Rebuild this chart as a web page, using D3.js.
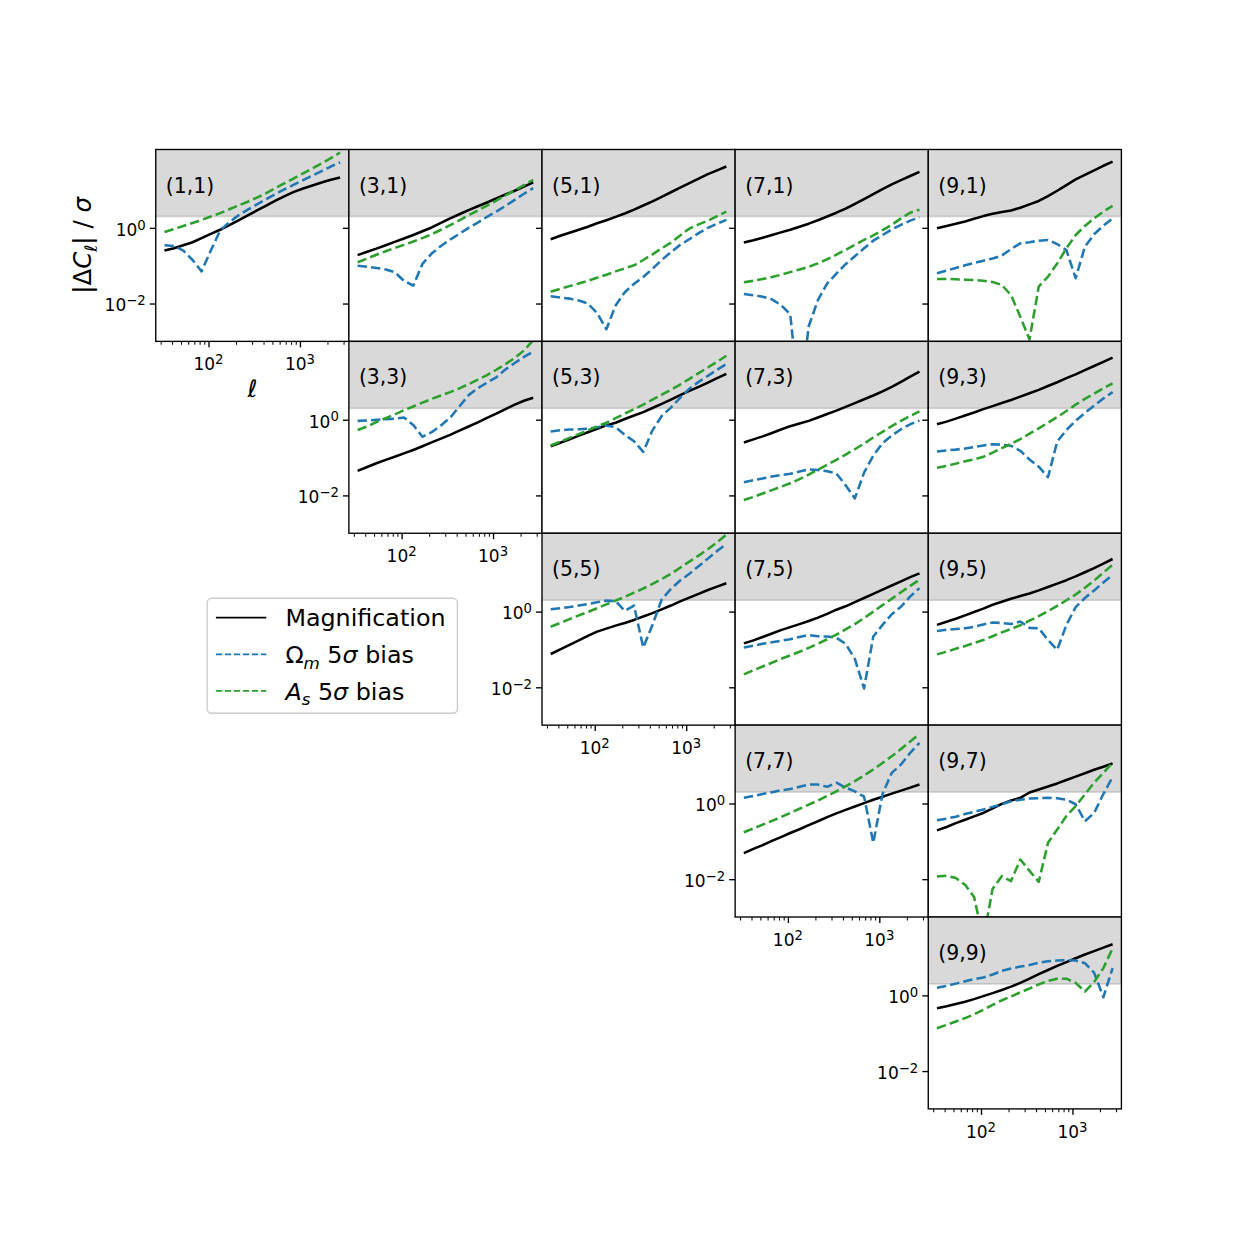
<!DOCTYPE html>
<html>
<head>
<meta charset="utf-8">
<script src="https://cdn.jsdelivr.net/npm/d3@7"></script>
<style>
  body { margin: 0; background: #fff; }
  svg { font-family: "DejaVu Sans", sans-serif; }
</style>
</head>
<body>
<div id="chart"></div>
<script>
// multipole bin centres, shared by every panel
const ells = [33, 42, 53, 67, 84, 106, 134, 169, 213, 269, 339, 428, 540, 681, 859, 1084, 1368, 1726, 2178, 2748];

// log10(|dC_l| / sigma) for each bin pair
// mag = magnification, om = Omega_m 5 sigma bias, as = A_s 5 sigma bias
const mag_1_1 = [-0.60, -0.54, -0.46, -0.38, -0.27, -0.16, -0.05, 0.07, 0.20, 0.33, 0.46, 0.59, 0.72, 0.84, 0.95, 1.04, 1.12, 1.20, 1.27, 1.33];
const om_1_1 = [-0.46, -0.48, -0.60, -0.85, -1.15, -0.60, -0.07, 0.15, 0.33, 0.48, 0.62, 0.76, 0.89, 1.02, 1.14, 1.26, 1.38, 1.50, 1.62, 1.73];
const as_1_1 = [-0.11, -0.03, 0.05, 0.13, 0.21, 0.30, 0.39, 0.49, 0.59, 0.69, 0.80, 0.92, 1.05, 1.18, 1.31, 1.44, 1.57, 1.70, 1.84, 1.99];

const mag_3_1 = [-0.72, -0.63, -0.55, -0.46, -0.37, -0.28, -0.19, -0.09, 0.01, 0.13, 0.25, 0.36, 0.47, 0.57, 0.67, 0.78, 0.88, 0.98, 1.09, 1.20];
const om_3_1 = [-1.00, -1.03, -1.06, -1.10, -1.17, -1.40, -1.53, -0.95, -0.68, -0.48, -0.31, -0.16, 0.00, 0.14, 0.29, 0.43, 0.58, 0.74, 0.90, 1.05];
const as_3_1 = [-0.91, -0.81, -0.71, -0.62, -0.53, -0.45, -0.36, -0.27, -0.17, -0.05, 0.07, 0.20, 0.33, 0.46, 0.59, 0.72, 0.86, 0.99, 1.13, 1.27];

const mag_5_1 = [-0.30, -0.21, -0.13, -0.05, 0.03, 0.12, 0.20, 0.29, 0.38, 0.48, 0.59, 0.70, 0.82, 0.94, 1.06, 1.18, 1.30, 1.42, 1.52, 1.62];
const om_5_1 = [-1.81, -1.84, -1.87, -1.92, -2.00, -2.25, -2.68, -2.05, -1.70, -1.48, -1.30, -1.08, -0.85, -0.64, -0.45, -0.30, -0.14, 0.00, 0.11, 0.21];
const as_5_1 = [-1.69, -1.61, -1.54, -1.47, -1.40, -1.32, -1.24, -1.15, -1.07, -0.99, -0.85, -0.70, -0.54, -0.39, -0.20, -0.02, 0.09, 0.19, 0.31, 0.43];

const mag_7_1 = [-0.39, -0.33, -0.26, -0.19, -0.12, -0.05, 0.03, 0.11, 0.20, 0.30, 0.40, 0.51, 0.63, 0.76, 0.89, 1.02, 1.15, 1.26, 1.37, 1.48];
const om_7_1 = [-1.75, -1.78, -1.82, -1.89, -2.04, -2.28, -4.60, -2.60, -1.91, -1.47, -1.21, -0.96, -0.75, -0.54, -0.34, -0.19, -0.04, 0.08, 0.19, 0.28];
const as_7_1 = [-1.44, -1.40, -1.35, -1.30, -1.24, -1.17, -1.10, -1.03, -0.94, -0.83, -0.71, -0.58, -0.45, -0.32, -0.20, -0.06, 0.08, 0.25, 0.40, 0.48];

const mag_9_1 = [-0.01, 0.05, 0.11, 0.17, 0.24, 0.31, 0.37, 0.42, 0.46, 0.53, 0.62, 0.71, 0.84, 0.98, 1.13, 1.28, 1.40, 1.52, 1.64, 1.75];
const om_9_1 = [-1.20, -1.13, -1.06, -0.99, -0.93, -0.87, -0.81, -0.73, -0.56, -0.41, -0.38, -0.34, -0.32, -0.43, -0.59, -1.33, -0.50, -0.17, 0.06, 0.25];
const as_9_1 = [-1.35, -1.35, -1.36, -1.37, -1.38, -1.40, -1.43, -1.51, -1.78, -2.35, -2.95, -1.55, -1.29, -0.94, -0.54, -0.19, 0.05, 0.25, 0.43, 0.58];

const mag_3_3 = [-1.35, -1.25, -1.15, -1.06, -0.98, -0.89, -0.80, -0.70, -0.60, -0.50, -0.40, -0.29, -0.18, -0.07, 0.05, 0.16, 0.28, 0.40, 0.50, 0.58];
const om_3_3 = [-0.03, -0.02, 0.00, 0.01, 0.03, 0.06, -0.14, -0.45, -0.33, -0.15, 0.05, 0.35, 0.65, 0.83, 0.98, 1.12, 1.33, 1.50, 1.66, 1.80];
const as_3_3 = [-0.27, -0.18, -0.06, 0.04, 0.14, 0.25, 0.35, 0.45, 0.55, 0.64, 0.73, 0.83, 0.94, 1.06, 1.18, 1.32, 1.47, 1.63, 1.83, 2.10];

const mag_5_3 = [-0.70, -0.61, -0.52, -0.42, -0.33, -0.24, -0.15, -0.08, 0.02, 0.11, 0.20, 0.31, 0.42, 0.53, 0.65, 0.76, 0.87, 0.98, 1.10, 1.21];
const om_5_3 = [-0.31, -0.28, -0.26, -0.25, -0.24, -0.20, -0.15, -0.20, -0.40, -0.57, -0.85, -0.28, 0.10, 0.32, 0.58, 0.82, 1.00, 1.16, 1.32, 1.47];
const as_5_3 = [-0.68, -0.58, -0.48, -0.38, -0.28, -0.18, -0.08, 0.04, 0.16, 0.28, 0.40, 0.53, 0.66, 0.79, 0.93, 1.08, 1.23, 1.38, 1.53, 1.69];

const mag_7_3 = [-0.60, -0.52, -0.44, -0.35, -0.26, -0.17, -0.10, -0.03, 0.06, 0.15, 0.24, 0.34, 0.44, 0.54, 0.64, 0.75, 0.87, 1.00, 1.14, 1.27];
const om_7_3 = [-1.65, -1.60, -1.55, -1.50, -1.46, -1.43, -1.37, -1.31, -1.33, -1.36, -1.42, -1.73, -2.08, -1.40, -0.95, -0.62, -0.42, -0.25, -0.12, -0.02];
const as_7_3 = [-2.12, -2.04, -1.95, -1.86, -1.77, -1.68, -1.57, -1.45, -1.32, -1.19, -1.06, -0.92, -0.78, -0.63, -0.47, -0.32, -0.17, -0.03, 0.10, 0.22];

const mag_9_3 = [-0.12, -0.05, 0.03, 0.11, 0.19, 0.28, 0.36, 0.44, 0.52, 0.61, 0.70, 0.79, 0.89, 0.99, 1.10, 1.20, 1.31, 1.42, 1.53, 1.64];
const om_9_3 = [-0.84, -0.81, -0.79, -0.76, -0.72, -0.68, -0.65, -0.66, -0.69, -0.82, -1.05, -1.24, -1.52, -0.58, -0.27, -0.03, 0.18, 0.37, 0.56, 0.73];
const as_9_3 = [-1.27, -1.22, -1.16, -1.10, -1.05, -0.98, -0.87, -0.75, -0.64, -0.51, -0.37, -0.23, -0.08, 0.07, 0.23, 0.40, 0.55, 0.69, 0.83, 0.96];

const mag_5_5 = [-1.12, -1.00, -0.88, -0.76, -0.64, -0.53, -0.45, -0.37, -0.30, -0.22, -0.13, -0.04, 0.06, 0.16, 0.27, 0.37, 0.47, 0.57, 0.66, 0.75];
const om_5_5 = [0.06, 0.09, 0.12, 0.16, 0.20, 0.25, 0.29, 0.28, 0.02, 0.16, -0.95, -0.35, 0.32, 0.60, 0.82, 1.00, 1.20, 1.40, 1.60, 1.79];
const as_5_5 = [-0.40, -0.30, -0.20, -0.10, -0.01, 0.09, 0.19, 0.29, 0.39, 0.50, 0.61, 0.73, 0.86, 1.00, 1.16, 1.32, 1.48, 1.65, 1.83, 2.03];

const mag_7_5 = [-0.84, -0.76, -0.67, -0.58, -0.49, -0.41, -0.33, -0.25, -0.16, -0.06, 0.05, 0.14, 0.25, 0.36, 0.47, 0.58, 0.69, 0.80, 0.91, 1.01];
const om_7_5 = [-0.95, -0.90, -0.85, -0.81, -0.77, -0.73, -0.67, -0.62, -0.65, -0.66, -0.69, -0.85, -1.25, -2.03, -0.66, -0.35, -0.07, 0.13, 0.40, 0.62];
const as_7_5 = [-1.66, -1.55, -1.45, -1.35, -1.25, -1.16, -1.06, -0.96, -0.85, -0.73, -0.61, -0.47, -0.33, -0.17, 0.00, 0.17, 0.34, 0.51, 0.68, 0.84];

const mag_9_5 = [-0.35, -0.27, -0.19, -0.10, -0.01, 0.08, 0.18, 0.26, 0.34, 0.41, 0.48, 0.56, 0.65, 0.74, 0.83, 0.93, 1.04, 1.15, 1.27, 1.39];
const om_9_5 = [-0.51, -0.48, -0.46, -0.44, -0.40, -0.34, -0.29, -0.30, -0.33, -0.26, -0.43, -0.44, -0.75, -1.01, -0.35, 0.12, 0.36, 0.56, 0.77, 0.97];
const as_9_5 = [-1.13, -1.06, -0.98, -0.91, -0.83, -0.75, -0.65, -0.55, -0.46, -0.36, -0.24, -0.12, 0.01, 0.15, 0.30, 0.45, 0.63, 0.82, 1.03, 1.24];

const mag_7_7 = [-1.31, -1.20, -1.10, -0.99, -0.89, -0.78, -0.68, -0.57, -0.47, -0.36, -0.26, -0.17, -0.08, 0.01, 0.10, 0.18, 0.26, 0.34, 0.42, 0.50];
const om_7_7 = [0.15, 0.20, 0.25, 0.30, 0.35, 0.38, 0.44, 0.50, 0.50, 0.44, 0.55, 0.42, 0.32, 0.18, -1.04, 0.25, 0.81, 1.03, 1.34, 1.60];
const as_7_7 = [-0.76, -0.66, -0.56, -0.46, -0.36, -0.25, -0.14, -0.03, 0.08, 0.20, 0.32, 0.45, 0.59, 0.74, 0.90, 1.07, 1.25, 1.44, 1.64, 1.84];

const mag_9_7 = [-0.71, -0.62, -0.52, -0.43, -0.34, -0.25, -0.13, -0.01, 0.08, 0.15, 0.29, 0.37, 0.45, 0.53, 0.62, 0.71, 0.80, 0.89, 0.97, 1.06];
const om_9_7 = [-0.44, -0.40, -0.35, -0.28, -0.22, -0.16, -0.09, -0.02, 0.06, 0.10, 0.13, 0.14, 0.15, 0.14, 0.10, -0.02, -0.47, -0.25, 0.25, 0.70];
const as_9_7 = [-1.93, -1.91, -1.97, -2.15, -2.47, -3.60, -2.25, -1.92, -2.05, -1.48, -1.78, -2.07, -1.04, -0.69, -0.33, -0.07, 0.24, 0.55, 0.81, 1.08];

const mag_9_9 = [-0.34, -0.29, -0.23, -0.17, -0.10, -0.02, 0.06, 0.14, 0.23, 0.33, 0.44, 0.56, 0.67, 0.78, 0.88, 0.98, 1.08, 1.17, 1.26, 1.35];
const om_9_9 = [0.20, 0.25, 0.31, 0.37, 0.43, 0.47, 0.55, 0.65, 0.71, 0.76, 0.80, 0.86, 0.90, 0.92, 0.93, 0.92, 0.85, 0.60, -0.05, 0.72];
const as_9_9 = [-0.87, -0.78, -0.69, -0.60, -0.50, -0.38, -0.25, -0.13, -0.03, 0.08, 0.18, 0.29, 0.38, 0.44, 0.44, 0.33, 0.10, 0.35, 0.72, 1.24];

// tomographic bin pairs (i,j), same order as panelSeries
const binPairs = [[1, 1], [3, 1], [5, 1], [7, 1], [9, 1],
                  [3, 3], [5, 3], [7, 3], [9, 3],
                  [5, 5], [7, 5], [9, 5],
                  [7, 7], [9, 7],
                  [9, 9]];
const panelSeries = [
    [mag_1_1, om_1_1, as_1_1], [mag_3_1, om_3_1, as_3_1], [mag_5_1, om_5_1, as_5_1], [mag_7_1, om_7_1, as_7_1], [mag_9_1, om_9_1, as_9_1],
    [mag_3_3, om_3_3, as_3_3], [mag_5_3, om_5_3, as_5_3], [mag_7_3, om_7_3, as_7_3], [mag_9_3, om_9_3, as_9_3],
    [mag_5_5, om_5_5, as_5_5], [mag_7_5, om_7_5, as_7_5], [mag_9_5, om_9_5, as_9_5],
    [mag_7_7, om_7_7, as_7_7], [mag_9_7, om_9_7, as_9_7],
    [mag_9_9, om_9_9, as_9_9]
];

const seriesColors = ["#000000", "#1f77b4", "#2ca02c"];
const seriesDashed = [false, true, true];
const legendLabels = [
    [{ t: "Magnification" }],
    [{ t: "Ω" }, { t: "m", sub: true, it: true }, { t: " 5" }, { t: "σ", it: true }, { t: " bias" }],
    [{ t: "A", it: true }, { t: "s", sub: true, it: true }, { t: " 5" }, { t: "σ", it: true }, { t: " bias" }]
];
const yMajor = [1e-2, 1e0];
const yMajorExp = ["−2", "0"];
const xMajor = [1e2, 1e3];
const xMajorExp = ["2", "3"];
const shadeFrom = 2;

// ---- layout (matplotlib-like figure, panels glued together) ----
const W = 1246, H = 1246;
const padLeft = 155.75, padTop = 149.5;
const pw = 193.13, ph = 191.88;
const PT = 1.7; // px per point

const svg = d3.select("#chart").append("svg")
    .attr("width", W)
    .attr("height", H);

svg.append("rect").attr("width", W).attr("height", H).attr("fill", "#fff");

const x = d3.scaleLog().domain([26.5, 3430]).range([0, pw]);
const y = d3.scaleLog().domain([1e-3, 117.5]).range([ph, 0]);

const line = d3.line()
    .x(d => x(d.ell))
    .y(d => y(Math.pow(10, d.v)));

// text with sub/superscripts
function rich(t, parts, size, scale = 0.7) {
    let shift = 0;
    parts.forEach(p => {
        const target = p.sub ? size * 0.24 : p.sup ? -size * 0.36 : 0;
        const ts = t.append("tspan").attr("dy", target - shift).text(p.t);
        shift = target;
        if (p.sub || p.sup) ts.attr("font-size", size * scale);
        if (p.it) ts.attr("font-style", "italic");
    });
}

binPairs.forEach((pair, k) => {
    const [bi, bj] = pair;
    const col = (bi - 1) / 2, row = (bj - 1) / 2;
    const diag = bi === bj;
    const g = svg.append("g")
        .attr("transform", `translate(${padLeft + col * pw},${padTop + row * ph})`);

    const clipId = `clip-${bi}-${bj}`;
    g.append("clipPath").attr("id", clipId)
        .append("rect").attr("width", pw).attr("height", ph);

    g.append("rect").attr("width", pw).attr("height", ph).attr("fill", "#fff");

    const inner = g.append("g").attr("clip-path", `url(#${clipId})`);

    // shaded region above the threshold
    inner.append("rect")
        .attr("x", -10)
        .attr("y", -10)
        .attr("width", pw + 20)
        .attr("height", y(shadeFrom) + 10)
        .attr("fill", "rgba(128,128,128,0.3)")
        .attr("stroke", "rgba(128,128,128,0.3)")
        .attr("stroke-width", PT);

    panelSeries[k].forEach((vals, s) => {
        const pts = ells.map((ell, n) => ({ ell: ell, v: vals[n] }));
        inner.append("path")
            .datum(pts)
            .attr("d", line)
            .attr("fill", "none")
            .attr("stroke", seriesColors[s])
            .attr("stroke-width", 1.5 * PT)
            .attr("stroke-linejoin", "round")
            .attr("stroke-dasharray", seriesDashed[s] ? "9.4,4.1" : null);
    });

    // panel label
    g.append("text")
        .attr("x", 10)
        .attr("y", 43)
        .attr("font-size", 20.4)
        .attr("fill", "#000")
        .text(`(${bi},${bj})`);

    // spines
    g.append("rect")
        .attr("width", pw).attr("height", ph)
        .attr("fill", "none")
        .attr("stroke", "#000")
        .attr("stroke-width", 0.8 * PT);

    // y ticks on every panel
    const ya = g.append("g").call(d3.axisLeft(y).tickValues(yMajor).tickSize(3.5 * PT).tickFormat(() => ""));
    ya.select(".domain").remove();
    ya.selectAll("text").remove();
    ya.selectAll("line").attr("stroke", "#000").attr("stroke-width", 0.8 * PT);

    if (!diag) return;

    // x ticks + labels only where nothing sits underneath
    const xMinor = x.ticks().filter(v => !xMajor.includes(v));
    const xm = g.append("g").attr("transform", `translate(0,${ph})`)
        .call(d3.axisBottom(x).tickValues(xMinor).tickSize(2 * PT).tickFormat(() => ""));
    xm.select(".domain").remove();
    xm.selectAll("text").remove();
    xm.selectAll("line").attr("stroke", "#000").attr("stroke-width", 0.6 * PT);

    const xa = g.append("g").attr("transform", `translate(0,${ph})`)
        .call(d3.axisBottom(x).tickValues(xMajor).tickSize(3.5 * PT).tickFormat(() => ""));
    xa.select(".domain").remove();
    xa.selectAll("text").remove();
    xa.selectAll("line").attr("stroke", "#000").attr("stroke-width", 0.8 * PT);

    xMajor.forEach((v, n) => {
        const t = g.append("text")
            .attr("x", x(v))
            .attr("y", ph + 29)
            .attr("text-anchor", "middle")
            .attr("font-size", 17);
        rich(t, [{ t: "10" }, { t: xMajorExp[n], sup: true }], 17, 0.78);
    });

    yMajor.forEach((v, n) => {
        const t = g.append("text")
            .attr("x", -10)
            .attr("y", y(v) + 7.8)
            .attr("text-anchor", "end")
            .attr("font-size", 17);
        rich(t, [{ t: "10" }, { t: yMajorExp[n], sup: true }], 17, 0.78);
    });
});

// axis titles (attached to the first panel)
const ylab = svg.append("text")
    .attr("transform", `translate(91,${padTop + ph / 2}) rotate(-90)`)
    .attr("text-anchor", "middle")
    .attr("font-size", 24.5);
rich(ylab, [{ t: "|Δ" }, { t: "C", it: true }, { t: "ℓ", sub: true, it: true }, { t: "| / " }, { t: "σ", it: true }], 24.5);

svg.append("text")
    .attr("x", padLeft + pw / 2)
    .attr("y", 397)
    .attr("text-anchor", "middle")
    .attr("font-size", 23.8)
    .attr("font-style", "italic")
    .text("ℓ");

// legend
const lg = svg.append("g").attr("transform", "translate(207.2,598.3)");
lg.append("rect")
    .attr("width", 250.2)
    .attr("height", 115)
    .attr("rx", 4.5)
    .attr("fill", "rgba(255,255,255,0.8)")
    .attr("stroke", "#cccccc")
    .attr("stroke-width", 0.8 * PT);

legendLabels.forEach((parts, s) => {
    const ly = 19.4 + s * 36.6;
    lg.append("line")
        .attr("x1", 8.7).attr("x2", 59.1)
        .attr("y1", ly).attr("y2", ly)
        .attr("stroke", seriesColors[s])
        .attr("stroke-width", PT)
        .attr("stroke-dasharray", seriesDashed[s] ? "6.3,2.7" : null);
    const t = lg.append("text")
        .attr("x", 78.2)
        .attr("y", ly + 8.8)
        .attr("font-size", 23.8);
    rich(t, parts, 23.8);
});
</script>
</body>
</html>
